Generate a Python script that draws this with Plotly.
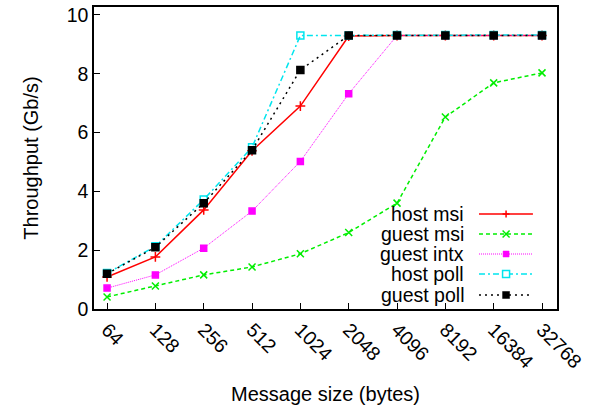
import plotly.graph_objects as go

sizes = ["64", "128", "256", "512", "1024", "2048", "4096", "8192", "16384", "32768"]
host_msi = [1.09, 1.77, 3.37, 5.38, 6.9, 9.28, 9.3, 9.3, 9.3, 9.3]
guest_msi = [0.41, 0.78, 1.16, 1.43, 1.88, 2.6, 3.6, 6.53, 7.69, 8.03]
guest_intx = [0.71, 1.16, 2.07, 3.33, 5.02, 7.32, 9.3, 9.3, 9.3, 9.3]
host_poll = [1.22, 2.13, 3.72, 5.5, 9.3, 9.3, 9.32, 9.32, 9.32, 9.32]
guest_poll = [1.2, 2.1, 3.6, 5.4, 8.13, 9.3, 9.3, 9.3, 9.3, 9.3]

xi = list(range(len(sizes)))

series = [
    dict(name="host msi", y=host_msi, color="#ff0000", dash="solid", lw=1.5, mk="plus"),
    dict(name="guest msi", y=guest_msi, color="#00ee00", dash="4px,3px", lw=1.5, mk="x"),
    dict(name="guest intx", y=guest_intx, color="#ff00ff", dash="1px,1px", lw=1, mk="fsq"),
    dict(name="host poll", y=host_poll, color="#00e5ee", dash="6px,3px,2px,3px", lw=1.5, mk="osq"),
    dict(name="guest poll", y=guest_poll, color="#000000", dash="2px,4px", lw=1.5, mk="bsq"),
]
markers = {
    "plus": dict(symbol="cross-thin", size=7),
    "x": dict(symbol="x-thin", size=7),
    "fsq": dict(symbol="square", size=6),
    "osq": dict(symbol="square-open", size=7),
    "bsq": dict(symbol="square", size=7),
}

fig = go.Figure()
for s in series:
    m = dict(markers[s["mk"]])
    m["color"] = s["color"]
    m["line"] = dict(color=s["color"], width=1.5)
    fig.add_trace(go.Scatter(x=xi, y=s["y"], name=s["name"], mode="lines+markers",
                             line=dict(color=s["color"], width=s["lw"], dash=s["dash"]),
                             marker=m, showlegend=False))

# gnuplot-style key (text on the left, sample on the right), placed in plot-area fractions
shapes = []
annotations = []
key_rows = [0.3146, 0.2483, 0.1821, 0.1159, 0.0464]
text_x, line_x0, line_x1, mark_x = 0.803, 0.8315, 0.948, 0.89
for s, ky in zip(series, key_rows):
    annotations.append(dict(xref="paper", yref="paper", x=text_x, y=ky, text=s["name"],
                            showarrow=False, xanchor="right", yanchor="middle",
                            font=dict(size=19.5)))
    shapes.append(dict(type="line", xref="paper", yref="paper", x0=line_x0, x1=line_x1,
                       y0=ky, y1=ky, line=dict(color=s["color"], width=s["lw"], dash=s["dash"])))
    c = s["color"]
    common = dict(xref="paper", yref="paper", xsizemode="pixel", ysizemode="pixel",
                  xanchor=mark_x, yanchor=ky)
    if s["mk"] == "plus":
        shapes.append(dict(type="line", x0=-3.5, x1=3.5, y0=0, y1=0, line=dict(color=c, width=1.5), **common))
        shapes.append(dict(type="line", x0=0, x1=0, y0=-3.5, y1=3.5, line=dict(color=c, width=1.5), **common))
    elif s["mk"] == "x":
        shapes.append(dict(type="line", x0=-3.5, x1=3.5, y0=-3.5, y1=3.5, line=dict(color=c, width=1.5), **common))
        shapes.append(dict(type="line", x0=-3.5, x1=3.5, y0=3.5, y1=-3.5, line=dict(color=c, width=1.5), **common))
    elif s["mk"] == "osq":
        shapes.append(dict(type="rect", x0=-3.5, x1=3.5, y0=-3.5, y1=3.5, fillcolor="white",
                           line=dict(color=c, width=1.5), **common))
    else:
        h = 3 if s["mk"] == "fsq" else 3.5
        shapes.append(dict(type="rect", x0=-h, x1=h, y0=-h, y1=h, fillcolor=c,
                           line=dict(color=c, width=0.5), **common))

font = "Liberation Sans, Arial, Helvetica, sans-serif"
fig.update_layout(
    width=595, height=405,
    margin=dict(l=94, r=38, t=7, b=96),
    paper_bgcolor="white", plot_bgcolor="white",
    font=dict(family=font, size=20, color="black"),
    showlegend=False,
    shapes=shapes,
    annotations=annotations,
    xaxis=dict(
        tickmode="array", tickvals=xi, ticktext=sizes, tickangle=45,
        range=[-0.27, 9.31], showgrid=False, zeroline=False, automargin=False,
        showline=True, linecolor="black", linewidth=1.5, mirror=True,
        ticks="inside", ticklen=6, tickcolor="black", tickfont=dict(size=19.5),
        title=dict(text="Message size (bytes)", standoff=15, font=dict(size=20)),
    ),
    yaxis=dict(
        range=[0, 10.27], tickvals=[0, 2, 4, 6, 8, 10],
        showgrid=False, zeroline=False, automargin=False,
        showline=True, linecolor="black", linewidth=1.5, mirror=True,
        ticks="inside", ticklen=6, tickcolor="black", tickfont=dict(size=19.5),
        title=dict(text="Throughput (Gb/s)", standoff=23, font=dict(size=20)),
    ),
)

fig.write_html("out.html", config={"displayModeBar": False},
               post_script="document.body.style.margin='0';document.body.style.overflow='hidden';")
